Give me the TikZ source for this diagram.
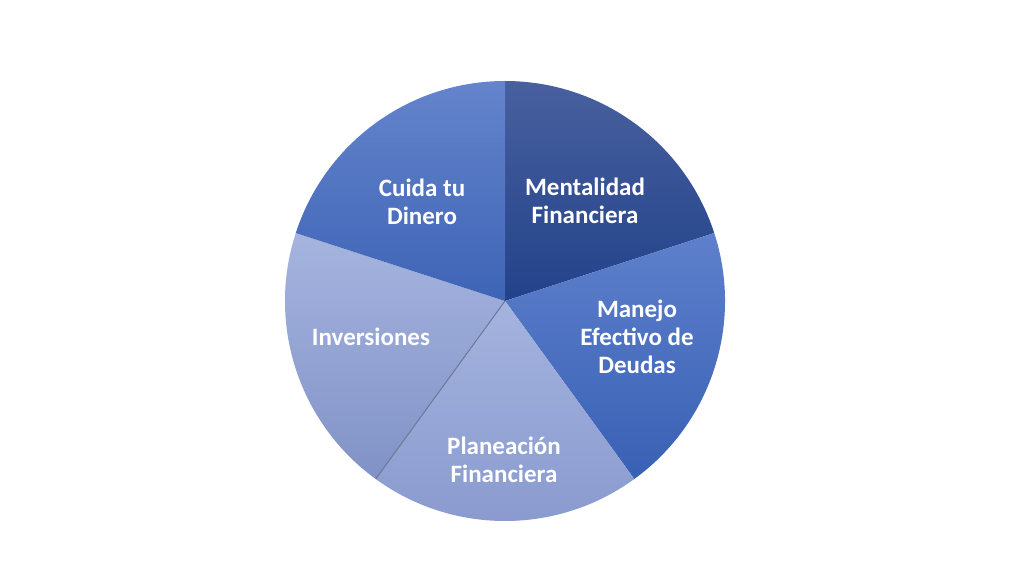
\documentclass[tikz,border=0pt]{standalone}
\usepackage{fontspec}
\setmainfont{Carlito}
\usetikzlibrary{calc}
\begin{document}
\begin{tikzpicture}[x=1pt,y=1pt,
  lbl/.style={text=white,font=\fontsize{25}{28}\selectfont\bfseries,align=center,inner sep=0pt}]
\useasboundingbox (0,0) rectangle (1024,576);
\fill[white] (0,0) rectangle (1024,576);
\coordinate (c) at (505,275);
\def\R{220}
% slices
\shade[top color={rgb,255:red,72;green,96;blue,158},bottom color={rgb,255:red,34;green,66;blue,138}]
  (c) -- ++(90:\R) arc[start angle=90,end angle=18,radius=\R] -- cycle;
\shade[top color={rgb,255:red,94;green,128;blue,204},bottom color={rgb,255:red,56;green,96;blue,180}]
  (c) -- ++(18:\R) arc[start angle=18,end angle=-54,radius=\R] -- cycle;
\shade[top color={rgb,255:red,164;green,179;blue,222},bottom color={rgb,255:red,136;green,153;blue,206}]
  (c) -- ++(-54:\R) arc[start angle=-54,end angle=-126,radius=\R] -- cycle;
\shade[top color={rgb,255:red,166;green,180;blue,223},bottom color={rgb,255:red,128;green,146;blue,198}]
  (c) -- ++(-126:\R) arc[start angle=-126,end angle=-198,radius=\R] -- cycle;
\shade[top color={rgb,255:red,100;green,132;blue,204},bottom color={rgb,255:red,62;green,100;blue,182}]
  (c) -- ++(162:\R) arc[start angle=162,end angle=90,radius=\R] -- cycle;
\coordinate (e) at ($(c)+(-126:\R)$);
\draw[line width=1pt,draw={rgb,255:red,110;green,120;blue,150}] (c) -- (e);
% labels
\node[lbl] (ment) at (585,375) {Mentalidad\\Financiera};
\node[lbl] (cuida) at (422,374) {Cuida tu\\Dinero};
\node[lbl] (manejo) at (637,239) {Manejo\\Efectivo de\\Deudas};
\node[lbl] (inv) at (371,239) {Inversiones};
\node[lbl] (plan) at (504,116) {Planeación\\Financiera};
\end{tikzpicture}
\end{document}
